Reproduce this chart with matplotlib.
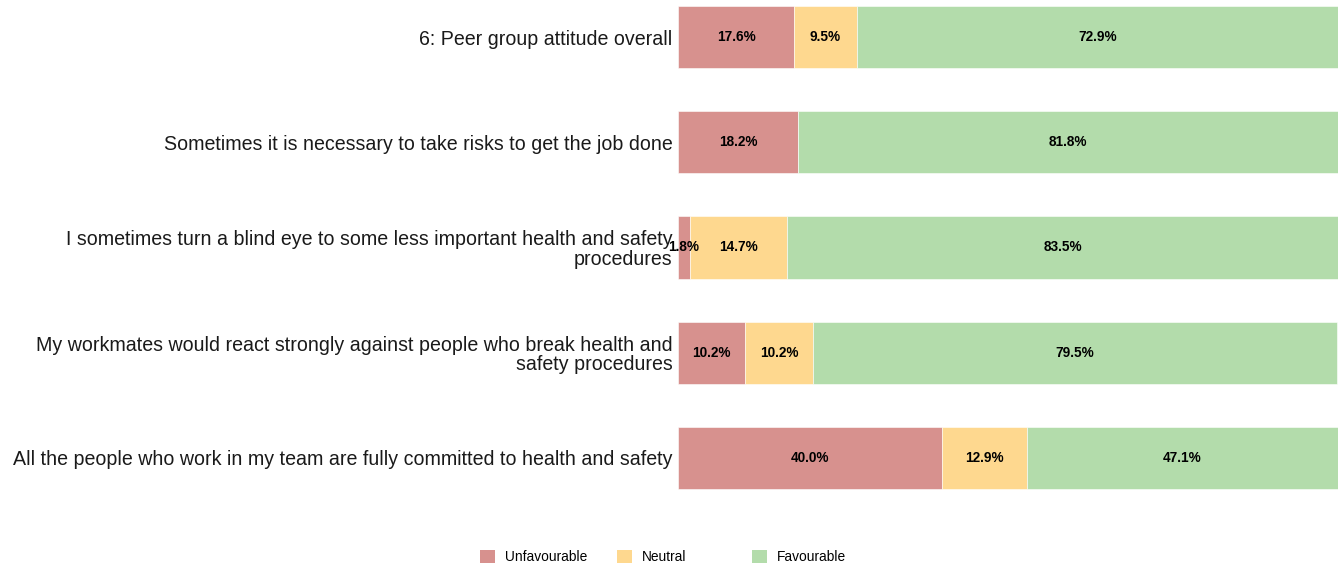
import matplotlib
matplotlib.use("Agg")
import matplotlib.pyplot as plt
from matplotlib.patches import Patch
import numpy as np

categories = [
    "6: Peer group attitude overall",
    "Sometimes it is necessary to take risks to get the job done",
    "I sometimes turn a blind eye to some less important health and safety\nprocedures",
    "My workmates would react strongly against people who break health and\nsafety procedures",
    "All the people who work in my team are fully committed to health and safety",
]
series_names = ["Unfavourable", "Neutral", "Favourable"]
unfavourable = [17.6, 18.2, 1.8, 10.2, 40.0]
neutral = [9.5, 0.0, 14.7, 10.2, 12.9]
favourable = [72.9, 81.8, 83.5, 79.5, 47.1]
colors = ["#D7918E", "#FED88F", "#B3DCAB"]

plt.rcParams['font.family'] = ['Liberation Sans', 'DejaVu Sans']

W, H = 1341, 566
fig = plt.figure(figsize=(W / 100, H / 100), dpi=100)
ax = fig.add_axes([678 / W, 1 - 510.5 / H, 660 / W, 510.5 / H])

n = len(categories)
ypos = np.arange(n)[::-1]  # first category at top
left = np.zeros(n)
for name, vals, c in zip(series_names, [unfavourable, neutral, favourable], colors):
    vals = np.array(vals)
    ax.barh(ypos, vals, left=left, height=0.59, color=c, edgecolor='white', linewidth=0.4)
    for y, l, v in zip(ypos, left, vals):
        if v > 0:
            ax.text(l + v / 2, y, f"{v:.1f}%", ha='center', va='center',
                    fontsize=9.8, fontweight='bold', color='black')
    left += vals

ax.set_xlim(0, 100)
ax.set_ylim(-0.5, 4.352)
ax.set_yticks(ypos)
ax.set_yticklabels(categories, fontsize=14.1, color='#1a1a1a', linespacing=1.05)
ax.tick_params(axis='y', length=0, pad=4)
ax.set_xticks([])
for s in ax.spines.values():
    s.set_visible(False)

# legend entries at fixed positions
leg_x = [480, 617, 752]
for name, c, x in zip(series_names, colors, leg_x):
    fig.legend(handles=[Patch(facecolor=c, edgecolor='none')], labels=[name],
               loc='center left', bbox_to_anchor=(x / W, 1 - 557 / H),
               frameon=False, fontsize=9.9, handlelength=1.1, handleheight=1.1,
               handletextpad=0.72, borderpad=0, borderaxespad=0)

fig.savefig("out.png", dpi=100)
